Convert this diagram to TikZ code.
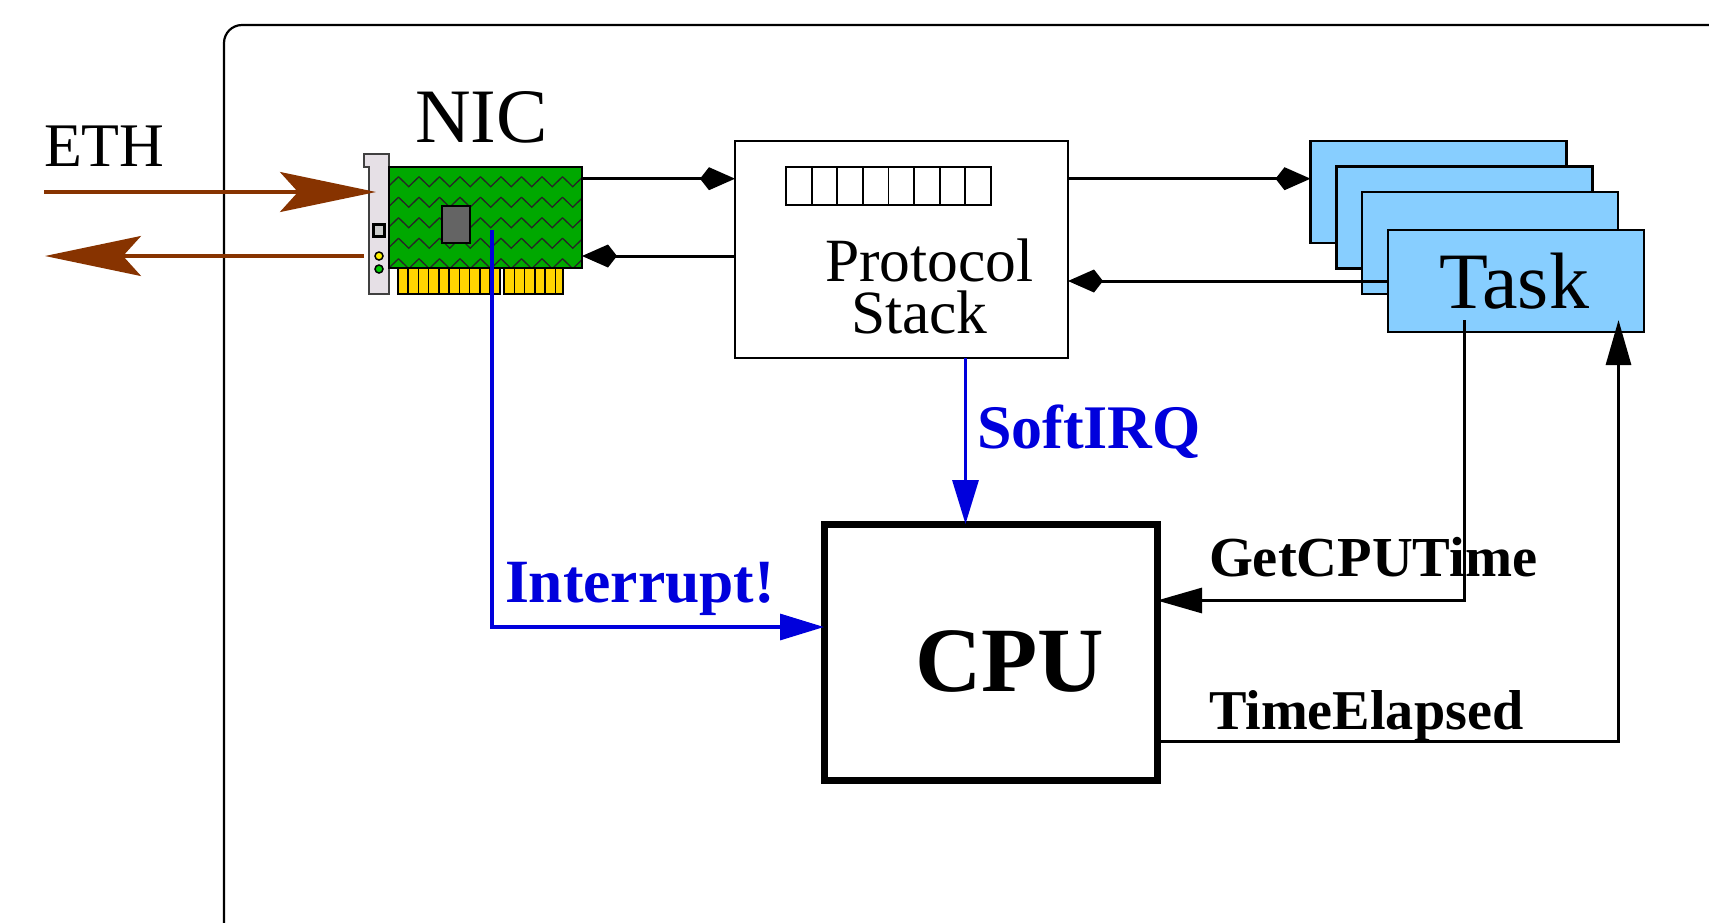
\documentclass[tikz,border=0pt]{standalone}
\usepackage{fontspec}
\setmainfont{Liberation Serif}
\usetikzlibrary{arrows.meta,calc}
\definecolor{brownline}{HTML}{873300}
\definecolor{cardgreen}{HTML}{00A800}
\definecolor{fingergold}{HTML}{FFD400}
\definecolor{taskblue}{HTML}{87CEFF}
\definecolor{irqblue}{HTML}{0000DC}
\definecolor{chipgray}{HTML}{646464}
\definecolor{bracketgray}{HTML}{E6E0E6}
\newcommand{\fs}[1]{\fontsize{#1}{#1}\selectfont}
\tikzset{
  x=1pt,y=-1pt,
  rectbox/.style={draw=black,line width=2.2pt,inner sep=0pt,outer sep=0pt,rectangle},
  taskbox/.style={rectbox,fill=taskblue,minimum width=256pt,minimum height=102pt},
  label/.style={inner sep=0pt,outer sep=0pt,anchor=base west,text=black},
  link/.style={draw=black,line width=3pt,-{Kite[length=35pt,width=23pt,inset=9pt]}},
  ctrl/.style={draw=black,line width=3pt,-{Stealth[length=45pt,width=25pt,inset=0pt]}},
  irq/.style={draw=irqblue,line width=3.2pt,-{Stealth[length=44pt,width=26pt,inset=0pt]}},
  eth/.style={draw=brownline,line width=3.2pt,-{Stealth[length=96pt,width=40pt,inset=18pt]}},
}
\begin{document}
\begin{tikzpicture}
\path[use as bounding box,clip] (0,0) rectangle (1709,922);
% outer frame
\draw[line width=2.2pt,rounded corners=18pt] (1800,25) -- (224,25) -- (224,1000);
% row coordinates
\coordinate (rA) at (0,178.7);
\coordinate (rB) at (0,256);
\coordinate (rC) at (0,281);
\coordinate (rE) at (0,600.5);
\coordinate (rF) at (0,741);
\coordinate (rG) at (0,627);
\coordinate (ethin) at (44,192);
\coordinate (ethtip) at (376,192);
\coordinate (ethout) at (45,256);
\coordinate (ethback) at (364,256);
\coordinate (colS) at (965.5,0);
\coordinate (irqstart) at (492,230);
\coordinate (getstart) at (1464,320);
\coordinate (elapend) at (1618.5,320);
% NIC bracket
\draw[fill=bracketgray,line width=1.8pt,draw=black!75] (364,154) -- (389,154) -- (389,294) -- (369,294) -- (369,167) -- (364,167) -- cycle;
\node[rectbox,fill=black!20,draw=black,line width=2.4pt,minimum width=11pt,minimum height=12pt] (port) at (379,230.5) {};
\node[circle,draw=black,fill=yellow,line width=1.5pt,minimum size=8pt,inner sep=0pt] (ledA) at (379,256) {};
\node[circle,draw=black,fill=green!80!black,line width=1.5pt,minimum size=8pt,inner sep=0pt] (ledB) at (379,269) {};
% fingers
\foreach \i in {0,...,9}{
  \draw[fill=fingergold,line width=1.5pt] ({398+\i*10.22},268) rectangle ({398+(\i+1)*10.22},294);
}
\foreach \i in {0,...,4}{
  \draw[fill=fingergold,line width=1.5pt] ({504+\i*10.3},268) rectangle ({504+(\i+1)*10.3},294);
}
\draw[fill=fingergold,line width=1.5pt] (555.5,268) rectangle (563,294);
% card
\node[rectbox,fill=cardgreen,minimum width=193pt,minimum height=101pt] (card) at (485.5,217.5) {};
\begin{scope}
  \clip (389,167) rectangle (582,268);
  \foreach \r in {0,...,4}{
    \foreach \k in {-1,...,9}{
      \draw[line width=1.3pt,black!85,line join=miter]
        ({398.5+\k*20.5},{176.7+\r*20.5}) -- ({408.75+\k*20.5},{186.7+\r*20.5}) -- ({419+\k*20.5},{176.7+\r*20.5});
    }
  }
\end{scope}
\draw[line width=2.2pt] (389,167) rectangle (582,268);
\node[rectbox,fill=chipgray,minimum width=28pt,minimum height=37pt] (chip) at (456,224.5) {};
% protocol stack
\node[rectbox,fill=white,minimum width=333pt,minimum height=217pt] (stack) at (901.5,249.5) {};
\node[rectbox,line width=1.8pt,fill=white,minimum width=205pt,minimum height=38pt] (ruler) at (888.5,186) {};
\foreach \i in {1,...,7}{
  \draw[line width=1.8pt] ($(ruler.north west)+({\i*25.6},0)$) -- ($(ruler.south west)+({\i*25.6},0)$);
}
% tasks
\node[taskbox] (taskA) at (1438.5,192) {};
\node[taskbox] (taskB) at (1464.5,217.5) {};
\node[taskbox] (taskC) at (1490,243) {};
\node[taskbox] (taskD) at (1516,281) {};
% CPU
\node[rectbox,line width=7pt,fill=white,minimum width=333pt,minimum height=256pt] (cpu) at (990.5,652) {};
% texts
\node[label] (tETH) at (44,166) {\fs{62}ETH};
\node[label] (tNIC) at (415,142) {\fs{77}NIC};
\node[label] (tProt) at (825,281) {\fs{61.5}Protocol};
\node[label] (tStack) at (851,333) {\fs{61.5}Stack};
\node[label] (tTask) at (1439,308) {\fs{80}Task};
\node[label] (tCPU) at (915,691) {\fs{92}\bfseries CPU};
\node[label,text=irqblue] (tSoft) at (977,448) {\fs{62}\bfseries SoftIRQ};
\node[label,text=irqblue] (tInt) at (505,602) {\fs{61.5}\bfseries Interrupt!};
\node[label] (tGet) at (1209,576) {\fs{56.5}\bfseries GetCPUTime};
\node[label] (tElap) at (1209,729) {\fs{56.2}\bfseries TimeElapsed};
% links
\path[link] (card.east |- rA) -- (stack.west |- rA);
\path[link] (stack.west |- rB) -- (card.east |- rB);
\path[link] (stack.east |- rA) -- (taskA.west |- rA);
\path[link] (taskD.west |- rC) -- (stack.east |- rC);
% control
\path[ctrl] (getstart) |- (cpu.east |- rE);
\path[ctrl] (cpu.east |- rF) -| (elapend);
% interrupts
\path[irq] (stack.south -| colS) -- (cpu.north -| colS);
\path[irq] (irqstart) |- (cpu.west |- rG);
% ethernet arrows
\path[eth] (ethin) -- (ethtip);
\path[eth] (ethback) -- (ethout);
\end{tikzpicture}
\end{document}
